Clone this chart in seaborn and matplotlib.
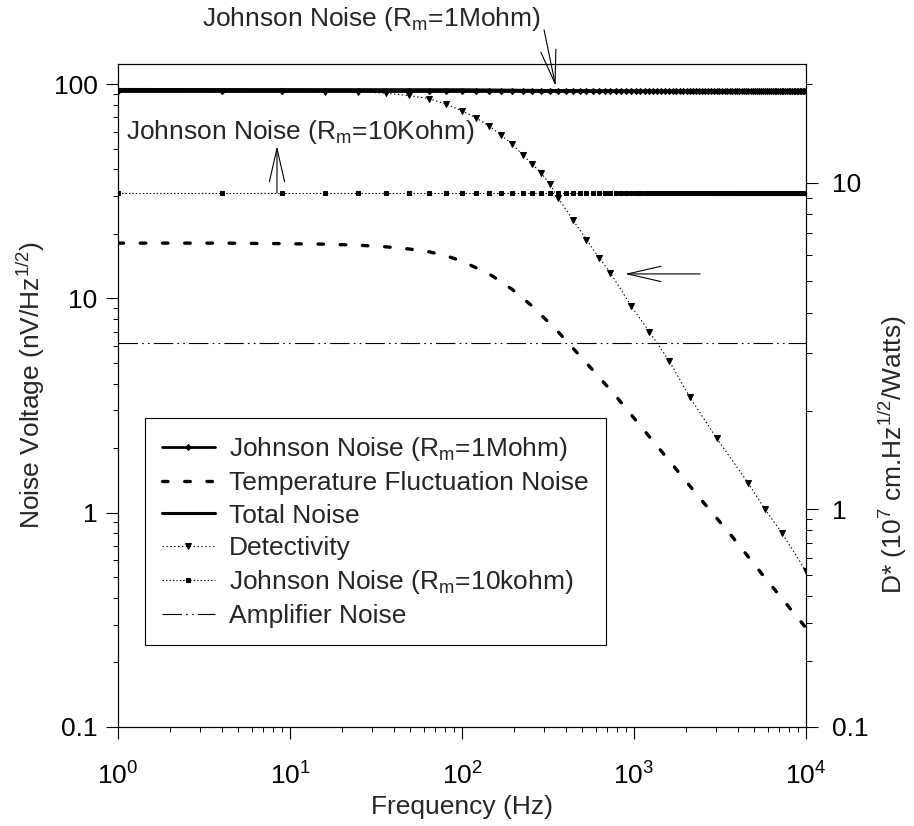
import numpy as np
import pandas as pd
import matplotlib
matplotlib.use("Agg")
import matplotlib.pyplot as plt
from matplotlib import ticker
import seaborn as sns

# ---------------- data ----------------
# frequency sweep used for the flat Johnson / amplifier curves (marker positions, Hz)
sweep_freq = [1, 4, 9, 16, 25, 36, 49, 64, 81, 100, 121, 144, 169, 196, 225, 256,
              289, 324, 361, 400, 441, 484, 529, 576, 625, 676, 729, 784, 841, 900,
              961, 1024, 1089, 1156, 1225, 1296, 1369, 1444, 1521, 1600, 1681, 1764,
              1849, 1936, 2025, 2116, 2209, 2304, 2401, 2500, 2601, 2704, 2809, 2916,
              3025, 3136, 3249, 3364, 3481, 3600, 3721, 3844, 3969, 4096, 4225, 4356,
              4489, 4624, 4761, 4900, 5041, 5184, 5329, 5476, 5625, 5776, 5929, 6084,
              6241, 6400, 6561, 6724, 6889, 7056, 7225, 7396, 7569, 7744, 7921, 8100,
              8281, 8464, 8649, 8836, 9025, 9216, 9409, 9604, 9801, 10000]
johnson_1meg = [92.5] * len(sweep_freq)      # nV/Hz^1/2
johnson_10k = [31.0] * len(sweep_freq)       # nV/Hz^1/2
amp_freq = [1, 10000]
amp_noise = [6.2, 6.2]                       # nV/Hz^1/2

temp_freq = [1, 4, 9, 16, 25, 36, 49, 64, 81, 100, 144, 196, 256, 361, 484, 625,
             784, 1024, 1600, 2500, 3600, 5625, 10000]
temp_noise = [18.1, 18.1, 18.0, 17.9, 17.7, 17.4, 17.0, 16.5, 15.8, 14.9, 13.0, 11.0,
              9.2, 7.0, 5.4, 4.3, 3.5, 2.7, 1.75, 1.13, 0.80, 0.51, 0.29]

total_freq = [1, 100, 300, 1000, 10000]
total_noise = [94.3, 94.0, 93.3, 92.9, 92.7]

det_freq = [1, 4, 9, 16, 25, 36, 49, 64, 81, 100, 121, 144, 169, 196, 225, 256, 289,
            324, 361, 441, 529, 625, 729, 961, 1225, 1600, 2116, 3025, 4624, 5776,
            7225, 10000]
detectivity = [19.1, 19.1, 19.1, 19.0, 19.0, 18.8, 18.5, 18.1, 17.4, 16.6, 15.8, 14.9,
               14.0, 13.1, 12.2, 11.4, 10.7, 9.9, 9.0, 7.7, 6.7, 5.9, 5.3, 4.2, 3.5,
               2.85, 2.2, 1.65, 1.2, 1.0, 0.78, 0.52]   # 10^7 cm.Hz^1/2/W

labels = [r"Johnson Noise (R$_{\mathregular{m}}$=1Mohm)",
          "Temperature Fluctuation Noise",
          "Total Noise",
          "Detectivity",
          r"Johnson Noise (R$_{\mathregular{m}}$=10kohm)",
          "Amplifier Noise"]
left_ticks = [0.1, 1, 10, 100]
right_ticks = [0.1, 1, 10]

# ---------------- style ----------------
sns.set_style("ticks")
plt.rcParams["font.family"] = ["Liberation Sans", "DejaVu Sans"]
plt.rcParams["mathtext.fontset"] = "custom"
plt.rcParams["mathtext.rm"] = "Liberation Sans"
plt.rcParams["mathtext.it"] = "Liberation Sans:italic"
plt.rcParams["lines.scale_dashes"] = False
FS = 19

fig = plt.figure(figsize=(9.14, 8.26), dpi=100)
ax = fig.add_axes([118 / 914, 1 - 727 / 826, 688 / 914, 663 / 826])
ax2 = ax.twinx()

common = dict(estimator=None, errorbar=None, sort=False, legend=False, color="k")

sns.lineplot(x=sweep_freq, y=johnson_1meg, ax=ax, lw=2.0, marker="D", markersize=3,
             mfc="k", mec="k", **common)
h1 = ax.get_lines()[-1]
sns.lineplot(x=temp_freq, y=temp_noise, ax=ax, lw=2.4, linestyle=(0, (4.0, 12.0)),
             dash_capstyle="round", **common)
h2 = ax.get_lines()[-1]
sns.lineplot(x=total_freq, y=total_noise, ax=ax, lw=2.2, **common)
h3 = ax.get_lines()[-1]
sns.lineplot(x=sweep_freq, y=johnson_10k, ax=ax, lw=0.8, linestyle=(0, (1.0, 1.5)),
             marker="s", markersize=3.2, mfc="k", mec="k", **common)
h5 = ax.get_lines()[-1]
sns.lineplot(x=amp_freq, y=amp_noise, ax=ax, lw=0.8,
             linestyle=(0, (14, 3, 1.2, 3, 1.2, 3)), **common)
h6 = ax.get_lines()[-1]

# right axis (as drawn in the reference: decade 1-10 is taller than 0.1-1)
K = 1.5


def fwd(v):
    v = np.asarray(v, dtype=float)
    lv = np.log10(np.clip(v, 1e-12, None))
    return np.where(lv > 0, lv * K, lv)


def inv(u):
    u = np.asarray(u, dtype=float)
    return np.where(u > 0, 10 ** (u / K), 10 ** u)


ax2.set_yscale("function", functions=(fwd, inv))
ax2.set_ylim(0.1, 23.1)
sns.lineplot(x=det_freq, y=detectivity, ax=ax2, lw=0.8, linestyle=(0, (1.0, 1.8)),
             marker="v", markersize=4.2, mfc="k", mec="k", **common)
h4 = ax2.get_lines()[-1]

# axes scales / limits
ax.set_xscale("log")
ax.set_yscale("log")
ax.set_xlim(1, 1e4)
ax.set_ylim(0.1, 124)

ax.yaxis.set_major_locator(ticker.FixedLocator(left_ticks))
ax.yaxis.set_major_formatter(ticker.FuncFormatter(lambda v, p: f"{v:g}"))
ax.yaxis.set_minor_formatter(ticker.NullFormatter())
ax.xaxis.set_minor_formatter(ticker.NullFormatter())
ax2.yaxis.set_major_locator(ticker.FixedLocator(right_ticks))
ax2.yaxis.set_major_formatter(ticker.FuncFormatter(lambda v, p: f"{v:g}"))
ax2.yaxis.set_minor_locator(ticker.LogLocator(base=10, subs=np.arange(2, 10), numticks=30))
ax2.yaxis.set_minor_formatter(ticker.NullFormatter())

for a in (ax, ax2):
    for s in a.spines.values():
        s.set_linewidth(0.8)
        s.set_color("k")
        s.set_visible(True)
ax.tick_params(which="major", length=8.6, width=0.8, labelsize=FS, colors="k", top=False)
ax.tick_params(which="minor", length=3.6, width=0.7, colors="k", top=False)
ax.tick_params(axis="x", which="major", pad=17)
ax.tick_params(axis="y", which="major", pad=6)
ax2.tick_params(which="major", length=8.6, width=0.8, labelsize=FS, colors="k", pad=10)
ax2.tick_params(which="minor", length=4.2, width=0.7, colors="k")

ax.set_xlabel("Frequency (Hz)", fontsize=FS, labelpad=4)
ax.set_ylabel(r"Noise Voltage (nV/Hz$^{\mathregular{1/2}}$)", fontsize=FS)
ax.yaxis.set_label_coords(-0.103, 0.516)
ax2.set_ylabel(r"D* (10$^{\mathregular{7}}$ cm.Hz$^{\mathregular{1/2}}$/Watts)", fontsize=FS)
ax2.yaxis.set_label_coords(1.103, 0.41)

# legend
leg = ax2.legend([h1, h2, h3, h4, h5, h6], labels, loc="upper left",
                 bbox_to_anchor=(0.039, 0.466), bbox_transform=ax.transAxes,
                 borderaxespad=0, frameon=True, fancybox=False, edgecolor="k",
                 framealpha=1, borderpad=0.65, handlelength=2.0, handletextpad=0.53,
                 labelspacing=0.31, fontsize=FS, numpoints=1)
leg.get_frame().set_linewidth(0.8)

# annotations
fig.text(202 / 914, 1 - 19 / 826, r"Johnson Noise (R$_{\mathregular{m}}$=1Mohm)",
         fontsize=FS, ha="left", va="center")
ax.text(0.012, 10 ** (2 - (132 - 84) / 214.3),
        r"Johnson Noise (R$_{\mathregular{m}}$=10Kohm)", fontsize=FS, ha="left",
        va="center", transform=ax.get_yaxis_transform())

arrow = dict(arrowstyle="->,head_length=2.4,head_width=0.55", lw=0.8, color="k",
             mutation_scale=10, shrinkA=0, shrinkB=0)
ax.annotate("", xy=(350, 98), xytext=(300, 179), arrowprops=arrow,
            annotation_clip=False)
ax.annotate("", xy=(8.4, 51.4), xytext=(8.4, 31), arrowprops=arrow)
ax.annotate("", xy=(887, 13.0), xytext=(2421, 13.0), arrowprops=arrow)

fig.savefig("out.png", dpi=100)
